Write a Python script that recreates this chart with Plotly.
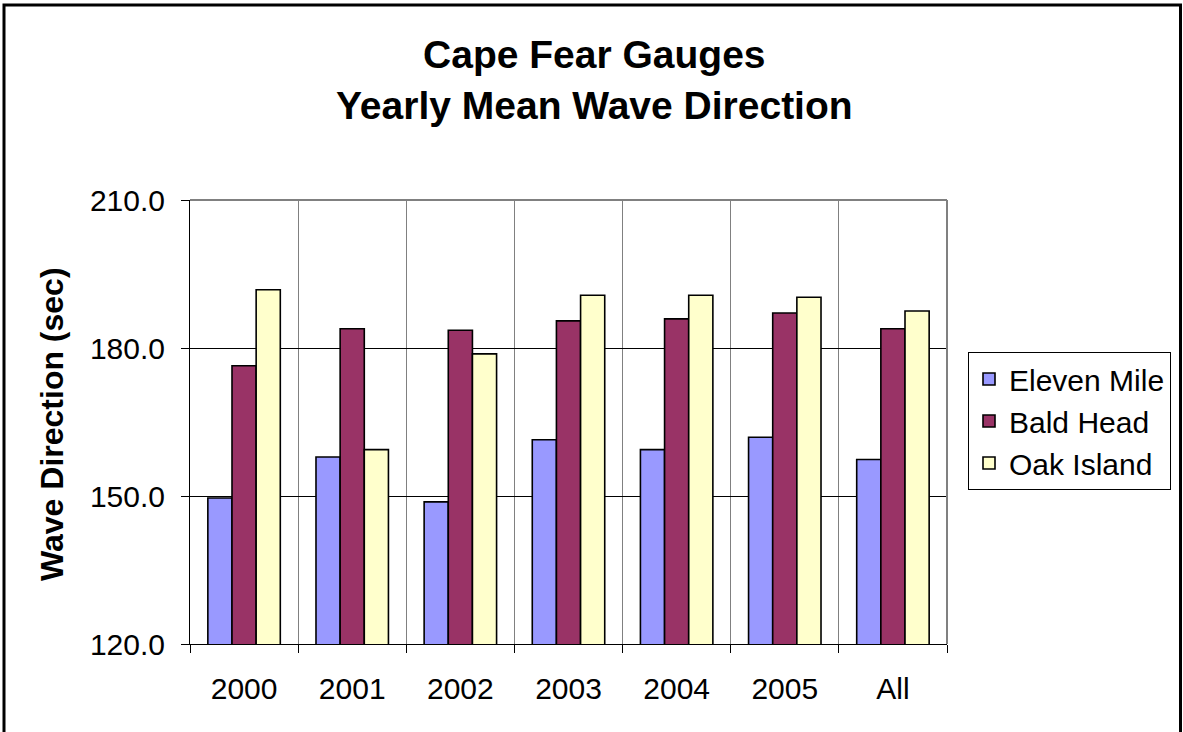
import plotly.graph_objects as go

categories = ["2000", "2001", "2002", "2003", "2004", "2005", "All"]
eleven_mile = [149.6, 157.9, 148.8, 161.4, 159.4, 161.9, 157.4]
bald_head = [176.4, 183.9, 183.6, 185.5, 185.9, 187.1, 183.9]
oak_island = [191.8, 159.4, 178.8, 190.7, 190.7, 190.3, 187.5]
y_ticks = [120, 150, 180, 210]

W, H = 1183, 732
# plot area in screen pixels
L, R, T, B = 190, 947, 200, 644
pw, ph = R - L, B - T

def px(x):
    return (x - L) / pw

def py(y):
    return (B - y) / ph

FONT = "Arial, Liberation Sans, sans-serif"

fig = go.Figure()
series = [("Eleven Mile", eleven_mile, "#9999FF"),
          ("Bald Head", bald_head, "#993366"),
          ("Oak Island", oak_island, "#FFFFCC")]
for name, vals, col in series:
    fig.add_trace(go.Bar(x=categories, y=vals, name=name,
                         marker=dict(color=col, line=dict(color="black", width=1.6))))

fig.update_layout(
    width=W, height=H,
    margin=dict(l=L, r=W - R, t=T, b=H - B, autoexpand=False),
    paper_bgcolor="white", plot_bgcolor="white",
    barmode="group", bargap=0.33, bargroupgap=0,
    font=dict(family=FONT, color="black", size=30),
    legend=dict(x=px(968), y=py(352), xanchor="left", yanchor="top",
                bordercolor="black", borderwidth=1, bgcolor="white",
                font=dict(size=30, family=FONT), tracegroupgap=0),
    showlegend=True,
)
fig.update_yaxes(range=[120, 210], tickvals=y_ticks, tickformat=".1f",
                 showgrid=True, gridcolor="black", gridwidth=1,
                 showline=True, linecolor="black", linewidth=1,
                 ticks="outside", ticklen=8, tickcolor="black",
                 ticklabelstandoff=10,
                 tickfont=dict(size=30), zeroline=False)
fig.update_xaxes(tickson="boundaries", showgrid=True, gridcolor="#808080", gridwidth=1,
                 showline=True, linecolor="black", linewidth=1,
                 ticks="outside", ticklen=8, tickcolor="black",
                 ticklabelstandoff=18,
                 tickfont=dict(size=30))

# chart title
fig.add_annotation(text="<b>Cape Fear Gauges<br>Yearly Mean Wave Direction</b>",
                   x=px(594), y=py(80), xref="paper", yref="paper",
                   xanchor="center", yanchor="middle", showarrow=False,
                   font=dict(size=39, family=FONT, color="black"))

# y-axis title
fig.add_annotation(text="<b>Wave Direction (sec)</b>", textangle=-90,
                   x=px(52), y=py(424), xref="paper", yref="paper",
                   xanchor="center", yanchor="middle",
                   showarrow=False, font=dict(size=32, family=FONT, color="black"))

# plot area border (top and right, gray)
fig.add_shape(type="line", xref="paper", yref="paper", x0=0, x1=1, y0=1, y1=1,
              line=dict(color="#808080", width=2))
fig.add_shape(type="line", xref="paper", yref="paper", x0=1, x1=1, y0=0, y1=1,
              line=dict(color="#808080", width=2))
# outer chart border
fig.add_shape(type="rect", xref="paper", yref="paper",
              x0=px(4), x1=px(1180.5), y0=py(5), y1=py(745),
              line=dict(color="black", width=3))

fig.write_html("out.html",
               config={"displayModeBar": False},
               post_script="document.body.style.margin='0';document.body.style.overflow='hidden';")
